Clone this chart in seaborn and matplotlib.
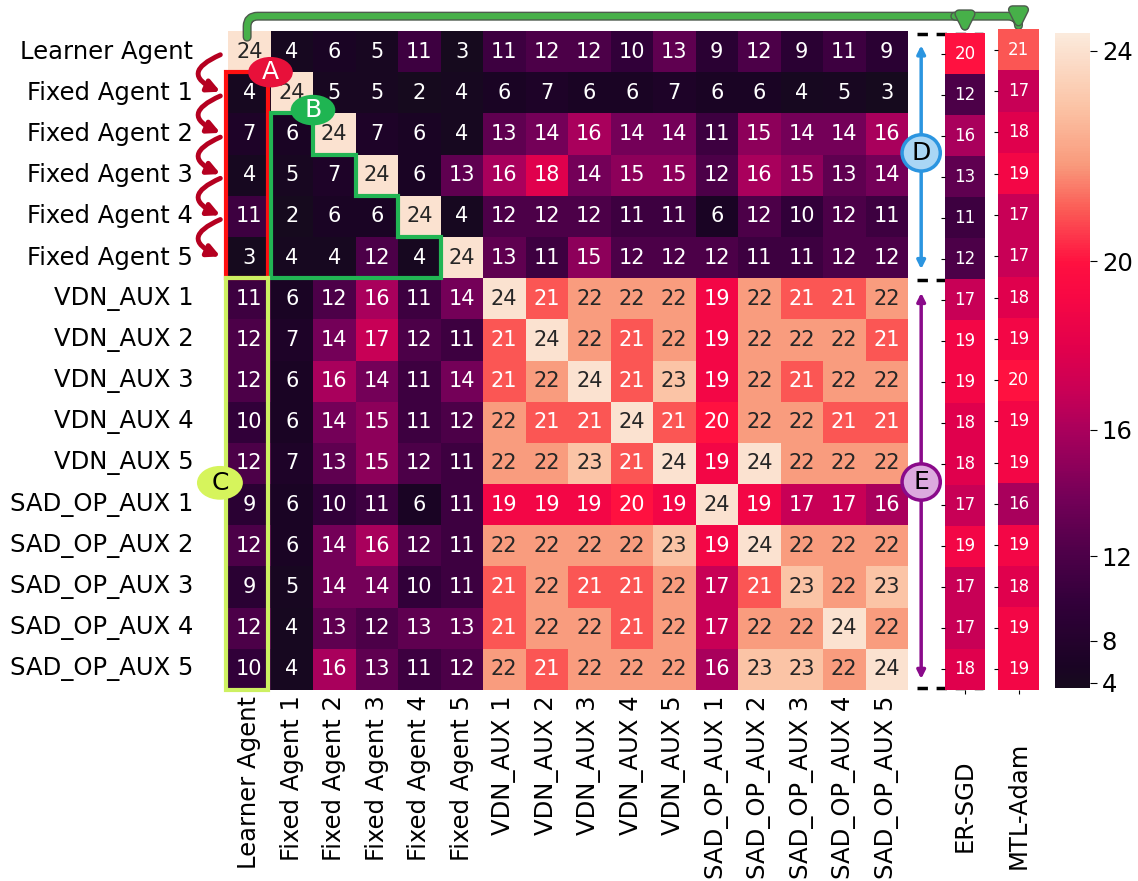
import numpy as np
import pandas as pd
import matplotlib.pyplot as plt
import matplotlib.patheffects as pe
import seaborn as sns
from matplotlib.colors import PowerNorm, LinearSegmentedColormap
from matplotlib.path import Path
from matplotlib.patches import Rectangle, Ellipse, Polygon, FancyArrowPatch

# Etiquetas de los agentes
agents = ['Learner Agent', 'Fixed Agent 1', 'Fixed Agent 2', 'Fixed Agent 3',
          'Fixed Agent 4', 'Fixed Agent 5', 'VDN_AUX 1', 'VDN_AUX 2',
          'VDN_AUX 3', 'VDN_AUX 4', 'VDN_AUX 5', 'SAD_OP_AUX 1',
          'SAD_OP_AUX 2', 'SAD_OP_AUX 3', 'SAD_OP_AUX 4', 'SAD_OP_AUX 5']

# Puntuaciones cruzadas (fila = agente, columna = compañero)
scores = [
    [24, 4, 6, 5, 11, 3, 11, 12, 12, 10, 13, 9, 12, 9, 11, 9],
    [4, 24, 5, 5, 2, 4, 6, 7, 6, 6, 7, 6, 6, 4, 5, 3],
    [7, 6, 24, 7, 6, 4, 13, 14, 16, 14, 14, 11, 15, 14, 14, 16],
    [4, 5, 7, 24, 6, 13, 16, 18, 14, 15, 15, 12, 16, 15, 13, 14],
    [11, 2, 6, 6, 24, 4, 12, 12, 12, 11, 11, 6, 12, 10, 12, 11],
    [3, 4, 4, 12, 4, 24, 13, 11, 15, 12, 12, 12, 11, 11, 12, 12],
    [11, 6, 12, 16, 11, 14, 24, 21, 22, 22, 22, 19, 22, 21, 21, 22],
    [12, 7, 14, 17, 12, 11, 21, 24, 22, 21, 22, 19, 22, 22, 22, 21],
    [12, 6, 16, 14, 11, 14, 21, 22, 24, 21, 23, 19, 22, 21, 22, 22],
    [10, 6, 14, 15, 11, 12, 22, 21, 21, 24, 21, 20, 22, 22, 21, 21],
    [12, 7, 13, 15, 12, 11, 22, 22, 23, 21, 24, 19, 24, 22, 22, 22],
    [9, 6, 10, 11, 6, 11, 19, 19, 19, 20, 19, 24, 19, 17, 17, 16],
    [12, 6, 14, 16, 12, 11, 22, 22, 22, 22, 23, 19, 24, 22, 22, 22],
    [9, 5, 14, 14, 10, 11, 21, 22, 21, 21, 22, 17, 21, 23, 22, 23],
    [12, 4, 13, 12, 13, 13, 21, 22, 22, 21, 22, 17, 22, 22, 24, 22],
    [10, 4, 16, 13, 11, 12, 22, 21, 22, 22, 22, 16, 23, 23, 22, 24],
]

er_sgd = [20, 12, 16, 13, 11, 12, 17, 19, 19, 18, 18, 17, 19, 17, 17, 18]
mtl_adam = [21, 17, 18, 19, 17, 17, 18, 19, 20, 19, 19, 16, 19, 18, 19, 19]
cbar_ticks = [4, 8, 12, 16, 20, 24]

df = pd.DataFrame(scores, index=agents, columns=agents)
df_er = pd.DataFrame({'ER-SGD': er_sgd}, index=agents)
df_mtl = pd.DataFrame({'MTL-Adam': mtl_adam}, index=agents)

# Paleta tipo "rocket" pero más saturada, como en la figura original
cmap = LinearSegmentedColormap.from_list('rocket_sat', [
    (0.0, '#160a1e'), (0.03, '#1a0424'), (0.13, '#32003a'), (0.2, '#4c0048'),
    (0.29, '#740058'), (0.39, '#a8005c'), (0.45, '#c80056'), (0.52, '#e2004c'),
    (0.6, '#f80844'), (0.65, '#ff1040'), (0.73, '#fb5a55'), (0.80, '#f99a7c'),
    (0.89, '#fbc4a6'), (1.0, '#fbeadc')])
norm = PowerNorm(gamma=2, vmin=2, vmax=24.3)

W, H = 1138, 881
fig = plt.figure(figsize=(W / 100, H / 100), dpi=100)


def box(x0, y0, x1, y1):
    return [x0 / W, 1 - y1 / H, (x1 - x0) / W, (y1 - y0) / H]


ax = fig.add_axes(box(228, 31, 908, 690))
ax_er = fig.add_axes(box(945, 33, 985, 690))
ax_mtl = fig.add_axes(box(998, 29, 1039, 690))
cax = fig.add_axes(box(1055, 33, 1090, 688))

sns.heatmap(df, ax=ax, cmap=cmap, norm=norm, annot=True, fmt='d',
            annot_kws={'fontsize': 15}, cbar_ax=cax)
sns.heatmap(df_er, ax=ax_er, cmap=cmap, norm=norm, annot=True, fmt='d',
            annot_kws={'fontsize': 12}, cbar=False)
sns.heatmap(df_mtl, ax=ax_mtl, cmap=cmap, norm=norm, annot=True, fmt='d',
            annot_kws={'fontsize': 12}, cbar=False)

ax.set_yticks(np.arange(16) + 0.5)
ax.set_yticklabels(agents, rotation=0)
ax.set_xticks(np.arange(16) + 0.5)
ax.set_xticklabels(agents, rotation=90)
ax.tick_params(axis='y', labelsize=17.5, pad=25, length=0)
ax.tick_params(axis='x', labelsize=17.5, pad=4, length=0)

for a, pad in [(ax_er, 47), (ax_mtl, 34)]:
    a.set_yticks(np.arange(16) + 0.5)
    a.set_yticklabels([])
    a.tick_params(axis='y', length=3)
    a.tick_params(axis='x', labelsize=17.5, pad=pad, length=3, labelrotation=90)

cax.set_yticks(cbar_ticks)
cax.set_yticklabels([str(t) for t in cbar_ticks])
cax.tick_params(labelsize=17.5, length=5)

# Anotaciones
# Flechas rojas curvas a la izquierda
for i in range(5):
    ax.add_patch(FancyArrowPatch((-0.12, i + 0.55), (-0.12, i + 1.5),
                                 connectionstyle='arc3,rad=1.2',
                                 arrowstyle='-|>', mutation_scale=18,
                                 color='#b50020', lw=3.5, clip_on=False))

ax.add_patch(Rectangle((-0.05, 1), 1.0, 5, fill=False, ec='#ff1010', lw=3,
                       clip_on=False, zorder=5))
ax.add_patch(Polygon([(1, 2), (2, 2), (2, 3), (3, 3), (3, 4), (4, 4), (4, 5),
                      (5, 5), (5, 6), (1, 6)], closed=True, fill=False,
                     ec='#22b554', lw=3, clip_on=False, zorder=5))
ax.add_patch(Rectangle((-0.05, 6), 1.0, 10, fill=False, ec='#cdf062', lw=3,
                       clip_on=False, zorder=5))

circles = [
    ('A', 1.0, 1.0, 1.05, 0.74, '#e8103a', 'none', 'white'),
    ('B', 2.0, 1.92, 1.05, 0.74, '#1fb552', 'none', 'white'),
    ('C', -0.19, 10.97, 1.08, 0.82, '#d6f45c', 'none', 'black'),
    ('D', 16.31, 2.96, 0.9, 0.88, '#a9d6f5', '#2b95e0', 'black'),
    ('E', 16.31, 10.95, 0.9, 0.88, '#dcaade', '#8a0a8a', 'black'),
]

# Flechas dobles D y E
ax.add_patch(FancyArrowPatch((16.31, 0.28), (16.31, 5.85), arrowstyle='<|-|>',
                             mutation_scale=12, color='#2b95e0', lw=2.5,
                             clip_on=False))
ax.add_patch(FancyArrowPatch((16.31, 6.29), (16.31, 15.8), arrowstyle='<|-|>',
                             mutation_scale=12, color='#8a0a8a', lw=2.5,
                             clip_on=False))

for lab, cx, cy, w, h, fc, ec, tc in circles:
    ax.add_patch(Ellipse((cx, cy), w, h, fc=fc, ec=ec, lw=2.5,
                         clip_on=False, zorder=6))
    ax.text(cx, cy, lab, ha='center', va='center', fontsize=18, color=tc,
            zorder=7, clip_on=False)

# Líneas discontinuas
for yy in [0.07, 6.04, 15.95]:
    ax.plot([16.21, 17.76], [yy, yy], color='black', ls=(0, (3, 2.5)), lw=2.5,
            clip_on=False)

# Flecha verde superior
stroke = [pe.withStroke(linewidth=6.5, foreground='#4d5a4d')]
top = -0.36
main_path = Path([(0.45, 0.15), (0.45, top + 0.25), (0.45, top), (0.7, top),
                  (18.35, top), (18.6, top), (18.6, top + 0.23), (18.6, -0.05)],
                 [Path.MOVETO, Path.LINETO, Path.CURVE3, Path.CURVE3,
                  Path.LINETO, Path.CURVE3, Path.CURVE3, Path.LINETO])
ax.add_patch(FancyArrowPatch(path=main_path, arrowstyle='-|>', mutation_scale=22,
                             color='#47b049', lw=4.5, clip_on=False,
                             path_effects=stroke, zorder=8))
branch = Path([(17.1, top), (17.34, top), (17.34, top + 0.23), (17.34, 0.05)],
              [Path.MOVETO, Path.CURVE3, Path.CURVE3, Path.LINETO])
ax.add_patch(FancyArrowPatch(path=branch, arrowstyle='-|>', mutation_scale=22,
                             color='#47b049', lw=4.5, clip_on=False,
                             path_effects=stroke, zorder=8))

ax.set_xlim(0, 16)
ax.set_ylim(16, 0)
ax.set_xlabel('')
ax.set_ylabel('')

plt.savefig('out.png', dpi=100)
